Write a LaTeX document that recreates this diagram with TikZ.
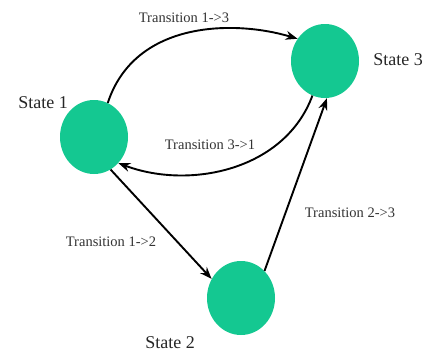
\documentclass[tikz,border=0pt]{standalone}
\usepackage{fontspec}
\setmainfont{Liberation Serif}
\usetikzlibrary{shapes.geometric,arrows.meta}
\definecolor{statefill}{RGB}{20,200,145}
\begin{document}
\begin{tikzpicture}[x=1pt,y=-1pt,
  state/.style={ellipse,fill=statefill,draw=none,minimum width=68pt,minimum height=74pt,inner sep=0pt},
  statelabel/.style={font=\fontsize{18}{20}\selectfont,text=black!85},
  translabel/.style={font=\fontsize{14.5}{16}\selectfont,text=black!80},
  trans/.style={line width=1.9pt,-{Stealth[length=12pt,width=9pt]}}]
\useasboundingbox (0,0) rectangle (425,356);

% states
\node[state] (s1) at (94,137) {};
\node[state] (s3) at (325,61) {};
\node[state] (s2) at (241,298) {};

% state names
\node[statelabel] (l1) at (43,103) {State 1};
\node[statelabel] (l3) at (398,60) {State 3};
\node[statelabel] (l2) at (170,343) {State 2};

% transitions
\draw[trans] (s1.68) .. controls (135,20) and (235,20) .. (s3.141);
\draw[trans] (s3.250) .. controls (285,170) and (190,190) .. (s1.-47);
\draw[trans] (s1.-63) -- (s2.147);
\draw[trans] (s2.49) -- (s3.-87);

% transition labels
\node[translabel] (t13) at (184,18) {Transition 1->3};
\node[translabel] (t31) at (210,145) {Transition 3->1};
\node[translabel] (t23) at (350,213) {Transition 2->3};
\node[translabel] (t12) at (111,242) {Transition 1->2};
\end{tikzpicture}
\end{document}
